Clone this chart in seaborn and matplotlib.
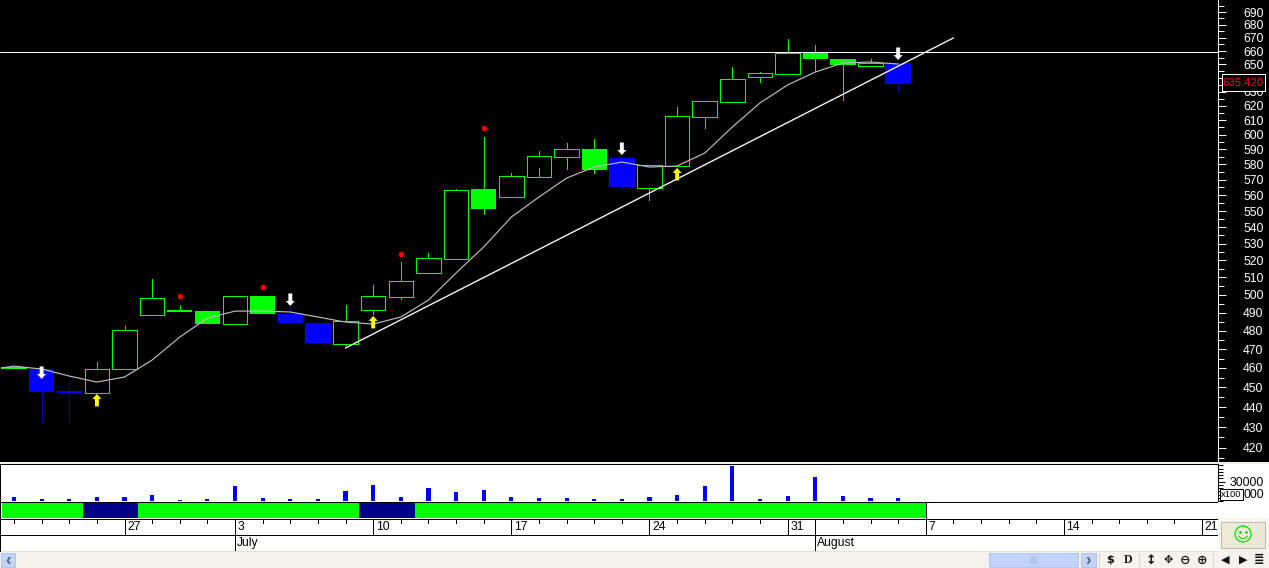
import numpy as np
import matplotlib
matplotlib.use('Agg')
import matplotlib.pyplot as plt
from matplotlib.patches import Rectangle, Circle
from matplotlib.ticker import FixedLocator, NullFormatter
import seaborn as sns

# candles
kinds = ['fill', 'blue', 'blue', 'hollow', 'hollow', 'hollow', 'fill', 'fill', 'hollow', 'fill', 'blue',
         'blue', 'hollow', 'hollow', 'hollow', 'hollow', 'hollow', 'fill', 'hollow', 'hollow', 'hollow', 'fill',
         'blue', 'hollow', 'hollow', 'hollow', 'hollow', 'hollow', 'hollow', 'fill', 'fill', 'hollow', 'blue']
body_top = [460.7, 459.5, 448.2, 459.5, 480.4, 498.2, 491.4, 490.8, 499.3, 499.3, 489.2,
            484.2, 485.3, 499.3, 507.9, 521.4, 563.4, 564.0, 572.4, 585.6, 590.3, 590.3,
            584.3, 579.6, 612.9, 623.5, 639.3, 643.7, 658.5, 658.5, 654.0, 651.1, 651.1]
body_bot = [459.5, 447.6, 447.1, 447.1, 459.5, 488.6, 490.2, 483.6, 483.6, 489.2, 484.2,
            473.3, 472.7, 491.4, 498.7, 512.6, 520.8, 551.3, 558.9, 571.8, 585.0, 576.4,
            565.3, 564.7, 579.0, 612.2, 622.8, 640.8, 642.9, 654.0, 649.6, 648.8, 635.4]
highs = [460.7, 459.5, 452.7, 463.2, 482.5, 509.1, 494.2, 490.8, 499.3, 499.3, 492.0,
         484.2, 494.2, 505.6, 519.0, 524.4, 563.8, 598.4, 574.4, 589.0, 594.4, 597.1,
         584.3, 579.6, 619.2, 623.5, 648.0, 644.4, 669.1, 664.5, 654.0, 654.0, 651.1]
lows = [459.5, 432.6, 432.6, 447.1, 459.5, 488.6, 490.2, 483.6, 483.6, 489.2, 484.2,
        473.3, 472.2, 489.2, 497.6, 512.6, 520.8, 548.2, 558.9, 577.7, 577.0, 574.4,
        564.0, 557.0, 579.0, 604.6, 622.8, 637.1, 642.9, 645.2, 624.2, 648.8, 629.2]
ma_x = [-0.45, 0, 0.5, 1, 2, 3, 4, 5, 6, 7, 8, 9, 10,
        11, 12, 13, 14, 15, 16, 17, 18, 19, 20, 21,
        22, 23, 24, 25, 26, 27, 28, 29, 30, 31, 32]
ma = [460.0, 461.0, 460.2, 459.5, 455.8, 452.7, 455.3, 464.2, 476.5, 486.9, 490.8, 490.8, 490.3,
      487.5, 484.7, 483.6, 487.5, 497.0, 512.6, 528.0, 546.3, 558.9, 571.1, 578.3,
      581.6, 578.3, 579.0, 587.6, 605.3, 622.1, 635.0, 644.4, 651.1, 651.8, 650.3]
volume = [6600, 3500, 3500, 6600, 6600, 9700, 2000, 3500, 23500, 5100, 3500,
          3500, 15900, 25000, 6600, 20500, 14300, 17400, 6600, 5100, 5100, 3500,
          3500, 6600, 9700, 23500, 54400, 3500, 8200, 37400, 8200, 5100, 5100]

trend_x = [12, 34]
trend_y = [470.6, 669.9]
level = 659.3
last_close = '635.420'

dot_x = [6, 9, 14, 17]
dot_y = [499.3, 504.4, 523.8, 604.6]
sell_x = [1, 10, 22, 32]
sell_y = [454.3, 493.7, 586.3, 653.3]
buy_x = [3, 13, 24]
buy_y = [446.6, 488.1, 577.7]

band_left = [-0.43, 2.5, 4.5, 12.5, 14.5]
band_right = [2.5, 4.5, 12.5, 14.5, 33.0]
band_color = ['#00FF00', '#00008B', '#00FF00', '#00008B', '#00FF00']

date_idx = [4, 8, 13, 18, 23, 28, 33, 38, 43]
date_lab = ['27', '3', '10', '17', '24', '31', '7', '14', '21']
month_idx = [8, 29]
month_lab = ['July', 'August']
price_ticks = list(range(420, 700, 10))
price_minor = list(range(415, 700, 10))
vol_ticks = [10000, 30000]
vol_minor = [0, 5000, 15000, 20000, 25000, 35000, 40000, 45000, 50000, 55000]

W, H = 1269, 568
sns.set_theme(style='dark')
plt.rcParams['font.family'] = ['Liberation Sans', 'DejaVu Sans']
fs = 8.7
px = 0.72  # one pixel in points at dpi 100

fig = plt.figure(figsize=(W / 100, H / 100), dpi=100)


def box(x0, y0, x1, y1, z):
    # axes from pixel coords, y going down
    return fig.add_axes([x0 / W, 1 - y1 / H, (x1 - x0) / W, (y1 - y0) / H], zorder=z)


bg = box(0, 0, W, H, 0)
bg.set_xlim(0, W)
bg.set_ylim(H, 0)
bg.axis('off')
bg.add_patch(Rectangle((0, 0), W, 462, color='black', lw=0))
bg.add_patch(Rectangle((0, 462), W, 2, color='#F2F1E6', lw=0))
bg.add_patch(Rectangle((0, 464), W, 87, color='white', lw=0))
bg.add_patch(Rectangle((1218, 518), 51, 33, color='#F7F6F0', lw=0))
bg.add_patch(Rectangle((0, 551), W, 17, color='#F4F3EE', lw=0))
bg.plot([0, 1218], [550.5, 550.5], color='#E4E2D6', lw=px)

# index 0 sits at pixel 14, one candle is 27.63 pixels
xlim = (-14 / 27.63, (1218 - 14) / 27.63)
idx = np.arange(len(kinds))

ax = box(0, 0, 1218, 461, 1)
ax.set_facecolor('black')
ax.set_yscale('log')
ax.set_xlim(xlim)
ax.set_ylim(690 * np.exp(-449 / 878), 690 * np.exp(12 / 878))
for s in ['top', 'left', 'bottom']:
    ax.spines[s].set_visible(False)
ax.spines['right'].set_color('white')
ax.spines['right'].set_linewidth(px)
ax.set_xticks([])
ax.yaxis.tick_right()
ax.yaxis.set_major_locator(FixedLocator(price_ticks))
ax.yaxis.set_minor_locator(FixedLocator(price_minor))
ax.yaxis.set_minor_formatter(NullFormatter())
# 640 sits behind the value box
ax.set_yticklabels(['' if v == 640 else str(v) for v in price_ticks])
ax.tick_params(axis='y', which='major', length=8 * px, width=px, color='white', labelcolor='white',
               labelsize=fs, pad=17 * px, right=True)
ax.tick_params(axis='y', which='minor', length=6 * px, width=px, color='white', right=True)

# wicks first, then bodies on top
wick_col = ['#0000B0' if k == 'blue' else '#00FF00' for k in kinds]
ax.vlines(idx, body_top, highs, colors=wick_col, lw=px, antialiased=False, zorder=2)
ax.vlines(idx, lows, body_bot, colors=wick_col, lw=px, antialiased=False, zorder=2)
for i, k in enumerate(kinds):
    h = body_top[i] - body_bot[i]
    if k == 'hollow':
        ax.bar(i, h, bottom=body_bot[i], width=0.89, facecolor='none', edgecolor='#00FF00', lw=px,
               antialiased=False, zorder=3)
    else:
        ax.bar(i, h, bottom=body_bot[i], width=0.92, color='#00FF00' if k == 'fill' else '#0000FF', lw=0,
               antialiased=False, zorder=3)

sns.lineplot(x=ma_x, y=ma, color='#BEBEBE', lw=0.85, ax=ax, zorder=4, legend=False)
sns.lineplot(x=trend_x, y=trend_y, color='white', lw=0.95, ax=ax, zorder=5, legend=False)
ax.axhline(level, color='white', lw=px, zorder=5)
sns.scatterplot(x=dot_x, y=dot_y, color='#FF0000', s=16, linewidth=0, ax=ax, zorder=6, legend=False)
for xv, yv in zip(sell_x, sell_y):
    ax.annotate('', xy=(xv, yv), xytext=(0, 9), textcoords='offset points', zorder=7,
                arrowprops=dict(facecolor='white', edgecolor='white', lw=0, width=2.8, headwidth=6.5,
                                headlength=3.6, shrink=0))
for xv, yv in zip(buy_x, buy_y):
    ax.annotate('', xy=(xv, yv), xytext=(0, -9), textcoords='offset points', zorder=7,
                arrowprops=dict(facecolor='#FFFF00', edgecolor='#FFFF00', lw=0, width=2.8, headwidth=6.5,
                                headlength=3.6, shrink=0))
ax.set_xlim(xlim)
ax.set_xlabel('')
ax.set_ylabel('')

# volume panel
av = box(0, 464, 1218, 501, 1)
av.set_facecolor('white')
sns.barplot(x=idx, y=volume, native_scale=True, color='#0000FF', saturation=1, width=0.15, linewidth=0,
            ax=av, legend=False)
for p in av.patches:
    p.set_antialiased(False)
av.set_xlim(xlim)
av.set_ylim(0, 57000)
av.set_xticks([])
av.set_xlabel('')
av.set_ylabel('')
for s in ['top', 'left', 'bottom', 'right']:
    av.spines[s].set_color('black')
    av.spines[s].set_linewidth(px)
av.yaxis.tick_right()
av.yaxis.set_major_locator(FixedLocator(vol_ticks))
av.yaxis.set_minor_locator(FixedLocator(vol_minor))
av.yaxis.set_minor_formatter(NullFormatter())
# the 10000 label is cut by the x100 box, only its tail shows (drawn below)
av.set_yticklabels(['', '30000'])
av.tick_params(axis='y', which='major', length=7 * px, width=px, color='black', labelcolor='black',
               labelsize=fs, pad=5 * px, right=True)
av.tick_params(axis='y', which='minor', length=5 * px, width=px, color='black', right=True)

# signal band and the date rows
cal = box(0, 501, 1218, 551, 1)
cal.set_facecolor('white')
cal.set_xlim(xlim)
cal.set_ylim(50, 0)
cal.set_xticks([])
cal.set_yticks([])
for s in ['top', 'right', 'bottom']:
    cal.spines[s].set_visible(False)
cal.spines['left'].set_color('black')
cal.spines['left'].set_linewidth(px)
cal.barh([9] * len(band_left), np.array(band_right) - np.array(band_left), left=band_left, height=16,
         color=band_color, lw=0, antialiased=False)
cal.vlines(33.0, 1, 17, colors='black', lw=px, antialiased=False)
cal.axhline(0.5, color='black', lw=px)
cal.axhline(17.5, color='black', lw=px)
cal.axhline(33.5, color='black', lw=px)
minor_idx = [i for i in range(44) if i not in date_idx]
cal.vlines(minor_idx, 17.5, 22, colors='black', lw=px, antialiased=False)
cal.vlines(date_idx, 17.5, 33.5, colors='black', lw=px, antialiased=False)
cal.vlines(month_idx, 17.5, 49.5, colors='black', lw=px, antialiased=False)
for i, s in zip(date_idx, date_lab):
    cal.text(i + 0.09, 26, s, fontsize=fs, color='black', va='center', ha='left')
for i, s in zip(month_idx, month_lab):
    cal.text(i + 0.06, 42, s, fontsize=fs, color='black', va='center', ha='left')

# overlay: value boxes, smiley, scroll bar, toolbar
top = box(0, 0, W, H, 5)
top.set_xlim(0, W)
top.set_ylim(H, 0)
top.axis('off')
top.patch.set_alpha(0)
top.add_patch(Rectangle((1221.5, 73.5), 43, 17, facecolor='black', edgecolor='white', lw=px))
top.text(1243, 82.5, last_close, color='#FF0000', fontsize=8.2, ha='center', va='center')
top.add_patch(Rectangle((1219.5, 488.5), 23, 11, facecolor='white', edgecolor='black', lw=px))
top.text(1231, 494.5, 'x100', color='black', fontsize=6.8, ha='center', va='center')
top.text(1244, 495, '000', color='black', fontsize=fs, ha='left', va='center')
top.add_patch(Rectangle((1220.5, 521.5), 44, 26, facecolor='#ECE9D8', edgecolor='#BDBAA8', lw=px))
top.add_patch(Circle((1243, 534), 8, facecolor='none', edgecolor='#00E000', lw=0.9))
top.plot([1240, 1246], [532, 532], ls='', marker='o', ms=1.8, color='#00C000', mew=0)
top.plot(np.linspace(1238.5, 1247.5, 12), 536 + 2.6 * np.sin(np.linspace(0, np.pi, 12)), color='#00E000', lw=0.8)

top.add_patch(Rectangle((1, 553), 14, 14, facecolor='#C3D3F5', edgecolor='#A9BEEA', lw=0.6))
top.text(8, 560, '‹', color='#4D6185', fontsize=12, fontweight='bold', ha='center', va='center')
top.add_patch(Rectangle((989, 553), 89, 14, facecolor='#C1D3FB', edgecolor='#A9C0F2', lw=0.6))
top.text(1033, 560, '||||', color='#8CA8E0', fontsize=6, ha='center', va='center')
top.add_patch(Rectangle((1081, 553), 15, 14, facecolor='#C3D3F5', edgecolor='#A9BEEA', lw=0.6))
top.text(1088, 560, '›', color='#4D6185', fontsize=12, fontweight='bold', ha='center', va='center')
for xv in [1099, 1139, 1213]:
    top.plot([xv, xv], [553, 567], color='#D8D6C8', lw=0.8)
icons = [(1110, '$', 8, 'DejaVu Sans'), (1128, 'D', 8.5, 'Liberation Serif'), (1151, '↕', 9, 'DejaVu Sans'),
         (1168, '✥', 8, 'DejaVu Sans'), (1185, '⊖', 9, 'DejaVu Sans'), (1202, '⊕', 9, 'DejaVu Sans'),
         (1225, '◀', 8, 'DejaVu Sans'), (1243, '▶', 8, 'DejaVu Sans'), (1259, '≣', 9, 'DejaVu Sans')]
for xv, s, fz, fam in icons:
    top.text(xv, 560, s, color='#111111', fontsize=fz, fontweight='bold', ha='center', va='center', family=[fam])

fig.savefig('out.png', dpi=100, facecolor='white')
